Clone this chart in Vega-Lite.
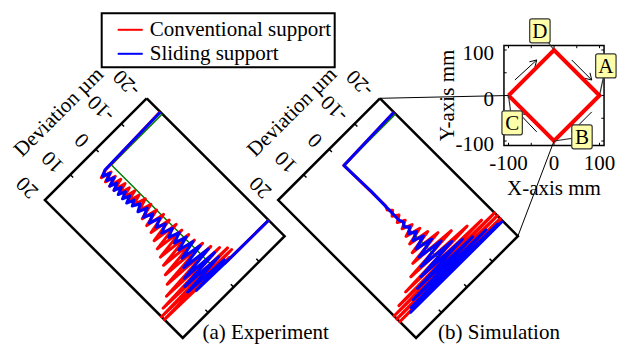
{
  "$schema": "https://vega.github.io/schema/vega-lite/v6.json",
  "width": 621,
  "height": 345,
  "autosize": {"type": "fit", "contains": "padding"},
  "padding": 0,
  "background": "white",
  "config": {"view": {"stroke": null}, "legend": {"strokeWidth": 2}},
  "datasets": {
    "curves": [
      {"panel":"a","series":"Conventional support","s":-2.8,"d":-20},
      {"panel":"a","series":"Conventional support","s":-0.5,"d":2},
      {"panel":"a","series":"Conventional support","s":1.9,"d":4.5},
      {"panel":"a","series":"Conventional support","s":4.7,"d":1.5},
      {"panel":"a","series":"Conventional support","s":7.5,"d":4.5},
      {"panel":"a","series":"Conventional support","s":10.4,"d":1.5},
      {"panel":"a","series":"Conventional support","s":13.2,"d":4.5},
      {"panel":"a","series":"Conventional support","s":16.0,"d":1},
      {"panel":"a","series":"Conventional support","s":18.9,"d":4.5},
      {"panel":"a","series":"Conventional support","s":21.7,"d":1},
      {"panel":"a","series":"Conventional support","s":24.5,"d":4},
      {"panel":"a","series":"Conventional support","s":27.4,"d":1},
      {"panel":"a","series":"Conventional support","s":30.2,"d":4},
      {"panel":"a","series":"Conventional support","s":33.0,"d":0.5},
      {"panel":"a","series":"Conventional support","s":35.8,"d":4},
      {"panel":"a","series":"Conventional support","s":38.7,"d":0.5},
      {"panel":"a","series":"Conventional support","s":41.5,"d":3.5},
      {"panel":"a","series":"Conventional support","s":45.3,"d":0},
      {"panel":"a","series":"Conventional support","s":49.1,"d":3.5},
      {"panel":"a","series":"Conventional support","s":52.8,"d":0},
      {"panel":"a","series":"Conventional support","s":56.6,"d":4.5},
      {"panel":"a","series":"Conventional support","s":60.4,"d":0},
      {"panel":"a","series":"Conventional support","s":64.2,"d":5},
      {"panel":"a","series":"Conventional support","s":67.9,"d":-0.5},
      {"panel":"a","series":"Conventional support","s":71.7,"d":5.5},
      {"panel":"a","series":"Conventional support","s":75.5,"d":-0.5},
      {"panel":"a","series":"Conventional support","s":79.2,"d":6.5},
      {"panel":"a","series":"Conventional support","s":83.0,"d":-1},
      {"panel":"a","series":"Conventional support","s":86.8,"d":7.5},
      {"panel":"a","series":"Conventional support","s":90.6,"d":-1},
      {"panel":"a","series":"Conventional support","s":94.3,"d":8.5},
      {"panel":"a","series":"Conventional support","s":98.1,"d":-1.5},
      {"panel":"a","series":"Conventional support","s":101.9,"d":9.5},
      {"panel":"a","series":"Conventional support","s":105.7,"d":-1.5},
      {"panel":"a","series":"Conventional support","s":109.4,"d":11},
      {"panel":"a","series":"Conventional support","s":113.2,"d":-2.5},
      {"panel":"a","series":"Conventional support","s":117.0,"d":12.5},
      {"panel":"a","series":"Conventional support","s":120.8,"d":-3.5},
      {"panel":"a","series":"Conventional support","s":124.5,"d":15},
      {"panel":"a","series":"Conventional support","s":127.4,"d":-5},
      {"panel":"a","series":"Conventional support","s":130.2,"d":18},
      {"panel":"a","series":"Conventional support","s":133.0,"d":-6.5},
      {"panel":"a","series":"Conventional support","s":134.9,"d":20},
      {"panel":"a","series":"Conventional support","s":136.8,"d":-7},
      {"panel":"a","series":"Conventional support","s":138.7,"d":20},
      {"panel":"a","series":"Conventional support","s":140.6,"d":-5},
      {"panel":"a","series":"Conventional support","s":141.5,"d":-3},
      {"panel":"a","series":"Conventional support","s":142.0,"d":-20},

      {"panel":"a","series":"Sliding support","s":-2.5,"d":-20},
      {"panel":"a","series":"Sliding support","s":-0.8,"d":2.3},
      {"panel":"a","series":"Sliding support","s":1.9,"d":4},
      {"panel":"a","series":"Sliding support","s":4.7,"d":2},
      {"panel":"a","series":"Sliding support","s":7.5,"d":4},
      {"panel":"a","series":"Sliding support","s":10.4,"d":2},
      {"panel":"a","series":"Sliding support","s":13.2,"d":4.5},
      {"panel":"a","series":"Sliding support","s":16.0,"d":2.5},
      {"panel":"a","series":"Sliding support","s":18.9,"d":4.5},
      {"panel":"a","series":"Sliding support","s":21.7,"d":2.5},
      {"panel":"a","series":"Sliding support","s":24.5,"d":4.5},
      {"panel":"a","series":"Sliding support","s":27.4,"d":2.5},
      {"panel":"a","series":"Sliding support","s":30.2,"d":4.5},
      {"panel":"a","series":"Sliding support","s":33.0,"d":2.5},
      {"panel":"a","series":"Sliding support","s":35.8,"d":4.5},
      {"panel":"a","series":"Sliding support","s":38.7,"d":2.5},
      {"panel":"a","series":"Sliding support","s":41.5,"d":4},
      {"panel":"a","series":"Sliding support","s":45.3,"d":2},
      {"panel":"a","series":"Sliding support","s":49.1,"d":4},
      {"panel":"a","series":"Sliding support","s":52.8,"d":1.5},
      {"panel":"a","series":"Sliding support","s":56.6,"d":4},
      {"panel":"a","series":"Sliding support","s":60.4,"d":1.5},
      {"panel":"a","series":"Sliding support","s":64.2,"d":4},
      {"panel":"a","series":"Sliding support","s":67.9,"d":1},
      {"panel":"a","series":"Sliding support","s":71.7,"d":3.5},
      {"panel":"a","series":"Sliding support","s":75.5,"d":1},
      {"panel":"a","series":"Sliding support","s":79.2,"d":3.5},
      {"panel":"a","series":"Sliding support","s":83.0,"d":0.5},
      {"panel":"a","series":"Sliding support","s":86.8,"d":3},
      {"panel":"a","series":"Sliding support","s":90.6,"d":0},
      {"panel":"a","series":"Sliding support","s":94.3,"d":3},
      {"panel":"a","series":"Sliding support","s":98.1,"d":-0.5},
      {"panel":"a","series":"Sliding support","s":101.9,"d":3.5},
      {"panel":"a","series":"Sliding support","s":105.7,"d":-1},
      {"panel":"a","series":"Sliding support","s":109.4,"d":4.5},
      {"panel":"a","series":"Sliding support","s":113.2,"d":-1.5},
      {"panel":"a","series":"Sliding support","s":117.0,"d":6},
      {"panel":"a","series":"Sliding support","s":120.8,"d":-2.5},
      {"panel":"a","series":"Sliding support","s":124.5,"d":8},
      {"panel":"a","series":"Sliding support","s":127.4,"d":-3},
      {"panel":"a","series":"Sliding support","s":130.2,"d":9.5},
      {"panel":"a","series":"Sliding support","s":133.0,"d":-3},
      {"panel":"a","series":"Sliding support","s":135.8,"d":10},
      {"panel":"a","series":"Sliding support","s":138.7,"d":-3.5},
      {"panel":"a","series":"Sliding support","s":140.6,"d":8},
      {"panel":"a","series":"Sliding support","s":141.5,"d":-4},
      {"panel":"a","series":"Sliding support","s":142.0,"d":-20},

      {"panel":"b","series":"Conventional support","s":-2.2,"d":-20},
      {"panel":"b","series":"Conventional support","s":0,"d":0.3},
      {"panel":"b","series":"Conventional support","s":54.7,"d":0},
      {"panel":"b","series":"Conventional support","s":58.5,"d":0.5},
      {"panel":"b","series":"Conventional support","s":62.3,"d":-0.5},
      {"panel":"b","series":"Conventional support","s":66.0,"d":0.8},
      {"panel":"b","series":"Conventional support","s":69.8,"d":-0.8},
      {"panel":"b","series":"Conventional support","s":73.6,"d":1},
      {"panel":"b","series":"Conventional support","s":77.4,"d":-1},
      {"panel":"b","series":"Conventional support","s":81.1,"d":1.3},
      {"panel":"b","series":"Conventional support","s":84.9,"d":-1.5},
      {"panel":"b","series":"Conventional support","s":88.7,"d":2},
      {"panel":"b","series":"Conventional support","s":92.5,"d":-2.3},
      {"panel":"b","series":"Conventional support","s":96.2,"d":2.8},
      {"panel":"b","series":"Conventional support","s":100.0,"d":-3.2},
      {"panel":"b","series":"Conventional support","s":103.8,"d":4},
      {"panel":"b","series":"Conventional support","s":107.5,"d":-5},
      {"panel":"b","series":"Conventional support","s":111.3,"d":6},
      {"panel":"b","series":"Conventional support","s":115.1,"d":-8},
      {"panel":"b","series":"Conventional support","s":118.9,"d":9},
      {"panel":"b","series":"Conventional support","s":122.6,"d":-12},
      {"panel":"b","series":"Conventional support","s":125.5,"d":13},
      {"panel":"b","series":"Conventional support","s":128.3,"d":-16},
      {"panel":"b","series":"Conventional support","s":130.2,"d":17},
      {"panel":"b","series":"Conventional support","s":132.1,"d":-20},
      {"panel":"b","series":"Conventional support","s":133.9,"d":20},
      {"panel":"b","series":"Conventional support","s":135.8,"d":-20},
      {"panel":"b","series":"Conventional support","s":137.7,"d":20},
      {"panel":"b","series":"Conventional support","s":139.6,"d":-20},
      {"panel":"b","series":"Conventional support","s":141.5,"d":20},
      {"panel":"b","series":"Conventional support","s":142.5,"d":-20},

      {"panel":"b","series":"Sliding support","s":-2.2,"d":-20},
      {"panel":"b","series":"Sliding support","s":0,"d":0.3},
      {"panel":"b","series":"Sliding support","s":35.8,"d":0},
      {"panel":"b","series":"Sliding support","s":73.6,"d":0.2},
      {"panel":"b","series":"Sliding support","s":77.4,"d":-0.3},
      {"panel":"b","series":"Sliding support","s":81.1,"d":0.6},
      {"panel":"b","series":"Sliding support","s":84.9,"d":-0.6},
      {"panel":"b","series":"Sliding support","s":88.7,"d":1},
      {"panel":"b","series":"Sliding support","s":92.5,"d":-1},
      {"panel":"b","series":"Sliding support","s":96.2,"d":1.5},
      {"panel":"b","series":"Sliding support","s":100.0,"d":-1.5},
      {"panel":"b","series":"Sliding support","s":103.8,"d":2.5},
      {"panel":"b","series":"Sliding support","s":107.5,"d":-2.5},
      {"panel":"b","series":"Sliding support","s":111.3,"d":3.5},
      {"panel":"b","series":"Sliding support","s":115.1,"d":-4},
      {"panel":"b","series":"Sliding support","s":118.9,"d":5},
      {"panel":"b","series":"Sliding support","s":122.6,"d":-6},
      {"panel":"b","series":"Sliding support","s":125.5,"d":7},
      {"panel":"b","series":"Sliding support","s":128.3,"d":-8.5},
      {"panel":"b","series":"Sliding support","s":131.1,"d":10},
      {"panel":"b","series":"Sliding support","s":133.5,"d":-11},
      {"panel":"b","series":"Sliding support","s":135.8,"d":13},
      {"panel":"b","series":"Sliding support","s":137.7,"d":-15},
      {"panel":"b","series":"Sliding support","s":139.6,"d":15},
      {"panel":"b","series":"Sliding support","s":141.5,"d":-18.5},
      {"panel":"b","series":"Sliding support","s":142.5,"d":16},
      {"panel":"b","series":"Sliding support","s":142.9,"d":-20}
    ],
    "reference": [
      {"panel":"a","s":0,"d":-20},{"panel":"a","s":0.2,"d":0},{"panel":"a","s":141.2,"d":0},{"panel":"a","s":141.4,"d":-20},
      {"panel":"b","s":0,"d":-20},{"panel":"b","s":0.2,"d":0},{"panel":"b","s":141.2,"d":0},{"panel":"b","s":141.4,"d":-20}
    ],
    "frames": [
      {"panel":"a","s":-20.75,"d":-20},{"panel":"a","s":163.2,"d":-20},{"panel":"a","s":163.2,"d":20},{"panel":"a","s":-20.75,"d":20},{"panel":"a","s":-20.75,"d":-20},
      {"panel":"b","s":-20.75,"d":-20},{"panel":"b","s":163.2,"d":-20},{"panel":"b","s":163.2,"d":20},{"panel":"b","s":-20.75,"d":20},{"panel":"b","s":-20.75,"d":-20}
    ],
    "frameticks": [
      {"panel":"a","side":"start","d":-10},{"panel":"a","side":"start","d":0},{"panel":"a","side":"start","d":10},
      {"panel":"a","side":"end","d":-10},{"panel":"a","side":"end","d":0},{"panel":"a","side":"end","d":10},
      {"panel":"b","side":"start","d":-10},{"panel":"b","side":"start","d":0},{"panel":"b","side":"start","d":10},
      {"panel":"b","side":"end","d":-10},{"panel":"b","side":"end","d":0},{"panel":"b","side":"end","d":10}
    ],
    "ticklabels": [
      {"panel":"a","d":-20,"label":"-20"},{"panel":"a","d":-10,"label":"-10"},{"panel":"a","d":0,"label":"0"},{"panel":"a","d":10,"label":"10"},{"panel":"a","d":20,"label":"20"},
      {"panel":"b","d":-20,"label":"-20"},{"panel":"b","d":-10,"label":"-10"},{"panel":"b","d":0,"label":"0"},{"panel":"b","d":10,"label":"10"},{"panel":"b","d":20,"label":"20"}
    ],
    "paneltitles": [
      {"panel":"a","label":"Deviation µm","caption":"(a) Experiment"},
      {"panel":"b","label":"Deviation µm","caption":"(b) Simulation"}
    ],
    "connectors": [
      {"panel":"b","s":-20.75,"d":-20,"X":-100,"Y":0},
      {"panel":"b","s":163.2,"d":-20,"X":0,"Y":-100}
    ],
    "path": [
      {"X":-100,"Y":0},{"X":0,"Y":100},{"X":100,"Y":0},{"X":0,"Y":-100},{"X":-100,"Y":0}
    ],
    "arrows": [
      {"X":-86,"Y":34,"X2":-38,"Y2":78},{"X":-54,"Y":74,"X2":-38,"Y2":78},{"X":-42,"Y":62,"X2":-38,"Y2":78},
      {"X":39,"Y":78,"X2":83,"Y2":34},{"X":79,"Y":50,"X2":83,"Y2":34},{"X":67,"Y":38,"X2":83,"Y2":34},
      {"X":83,"Y":-36,"X2":39,"Y2":-80},{"X":55,"Y":-76,"X2":39,"Y2":-80},{"X":43,"Y":-64,"X2":39,"Y2":-80},
      {"X":-38,"Y":-80,"X2":-78,"Y2":-38},{"X":-62,"Y":-42,"X2":-78,"Y2":-38},{"X":-74,"Y":-54,"X2":-78,"Y2":-38}
    ],
    "insetticks": [
      {"side":"top","v":-100},{"side":"top","v":-50},{"side":"top","v":0},{"side":"top","v":50},{"side":"top","v":100},
      {"side":"bottom","v":-100},{"side":"bottom","v":-50},{"side":"bottom","v":0},{"side":"bottom","v":50},{"side":"bottom","v":100},
      {"side":"left","v":-100},{"side":"left","v":-50},{"side":"left","v":0},{"side":"left","v":50},{"side":"left","v":100},
      {"side":"right","v":-100},{"side":"right","v":-50},{"side":"right","v":0},{"side":"right","v":50},{"side":"right","v":100}
    ],
    "insetlabels": [
      {"v":-100,"label":"-100"},{"v":0,"label":"0"},{"v":100,"label":"100"}
    ],
    "callouts": [
      {"label":"D","X":-31,"Y":142,"TX":0,"TY":100},
      {"label":"A","X":114,"Y":65,"TX":100,"TY":0},
      {"label":"B","X":61.5,"Y":-91,"TX":0,"TY":-100},
      {"label":"C","X":-92,"Y":-60,"TX":-100,"TY":0}
    ]
  },
  "layer": [
    {
      "data": {"name": "frames"},
      "transform": [
        {"calculate": "datum.panel === 'b' ? 380 : 146.7", "as": "tx"},
        {"calculate": "(datum.s + 20.75) * 1.06", "as": "sp"},
        {"calculate": "(datum.d + 20) * 3.6", "as": "dp"},
        {"calculate": "datum.tx + (datum.sp - datum.dp) * 0.70711", "as": "px"},
        {"calculate": "98.3 + (datum.sp + datum.dp) * 0.70711", "as": "py"}
      ],
      "mark": {"type": "line", "color": "black", "strokeWidth": 2.5, "strokeJoin": "miter"},
      "encoding": {
        "x": {"field": "px", "type": "quantitative", "scale": {"domain": [0, 621], "nice": false, "zero": false}, "axis": null},
        "y": {"field": "py", "type": "quantitative", "scale": {"domain": [0, 345], "reverse": true, "nice": false, "zero": false}, "axis": null},
        "detail": {"field": "panel"},
        "order": {"value": null}
      }
    },
    {
      "data": {"name": "frameticks"},
      "transform": [
        {"calculate": "datum.panel === 'b' ? 380 : 146.7", "as": "tx"},
        {"calculate": "datum.side === 'start' ? 0 : 195", "as": "sp"},
        {"calculate": "datum.side === 'start' ? 4 : 191", "as": "sp2"},
        {"calculate": "(datum.d + 20) * 3.6", "as": "dp"},
        {"calculate": "datum.tx + (datum.sp - datum.dp) * 0.70711", "as": "px"},
        {"calculate": "98.3 + (datum.sp + datum.dp) * 0.70711", "as": "py"},
        {"calculate": "datum.tx + (datum.sp2 - datum.dp) * 0.70711", "as": "px2"},
        {"calculate": "98.3 + (datum.sp2 + datum.dp) * 0.70711", "as": "py2"}
      ],
      "mark": {"type": "rule", "color": "black", "strokeWidth": 1.5},
      "encoding": {
        "x": {"field": "px", "type": "quantitative", "axis": null},
        "y": {"field": "py", "type": "quantitative", "axis": null},
        "x2": {"field": "px2"},
        "y2": {"field": "py2"}
      }
    },
    {
      "data": {"name": "ticklabels"},
      "transform": [
        {"calculate": "datum.panel === 'b' ? 380 : 146.7", "as": "tx"},
        {"calculate": "-11", "as": "sp"},
        {"calculate": "(datum.d + 20) * 3.6 + 3", "as": "dp"},
        {"calculate": "datum.tx + (datum.sp - datum.dp) * 0.70711", "as": "px"},
        {"calculate": "98.3 + (datum.sp + datum.dp) * 0.70711", "as": "py"}
      ],
      "mark": {"type": "text", "font": "Liberation Serif", "fontSize": 21, "color": "black", "angle": 225, "align": "left", "baseline": "middle"},
      "encoding": {
        "x": {"field": "px", "type": "quantitative", "axis": null},
        "y": {"field": "py", "type": "quantitative", "axis": null},
        "text": {"field": "label"}
      }
    },
    {
      "data": {"name": "paneltitles"},
      "transform": [
        {"calculate": "datum.panel === 'b' ? 380 : 146.7", "as": "tx"},
        {"calculate": "datum.tx + (-52 - 72) * 0.70711", "as": "px"},
        {"calculate": "98.3 + (-52 + 72) * 0.70711", "as": "py"}
      ],
      "mark": {"type": "text", "font": "Liberation Serif", "fontSize": 21, "color": "black", "angle": 315, "align": "center", "baseline": "middle"},
      "encoding": {
        "x": {"field": "px", "type": "quantitative", "axis": null},
        "y": {"field": "py", "type": "quantitative", "axis": null},
        "text": {"field": "label"}
      }
    },
    {
      "data": {"name": "paneltitles"},
      "transform": [
        {"calculate": "datum.panel === 'b' ? 380 : 146.7", "as": "tx"},
        {"calculate": "datum.tx + 119", "as": "px"},
        {"calculate": "333", "as": "py"}
      ],
      "mark": {"type": "text", "font": "Liberation Serif", "fontSize": 21, "color": "black", "align": "center", "baseline": "middle"},
      "encoding": {
        "x": {"field": "px", "type": "quantitative", "axis": null},
        "y": {"field": "py", "type": "quantitative", "axis": null},
        "text": {"field": "caption"}
      }
    },
    {
      "data": {"name": "reference"},
      "transform": [
        {"calculate": "datum.panel === 'b' ? 380 : 146.7", "as": "tx"},
        {"calculate": "(datum.s + 20.75) * 1.06", "as": "sp"},
        {"calculate": "(datum.d + 20) * 3.6", "as": "dp"},
        {"calculate": "datum.tx + (datum.sp - datum.dp) * 0.70711", "as": "px"},
        {"calculate": "98.3 + (datum.sp + datum.dp) * 0.70711", "as": "py"}
      ],
      "mark": {"type": "line", "color": "#008000", "strokeWidth": 1.5},
      "encoding": {
        "x": {"field": "px", "type": "quantitative", "axis": null},
        "y": {"field": "py", "type": "quantitative", "axis": null},
        "detail": {"field": "panel"},
        "order": {"value": null}
      }
    },
    {
      "data": {"name": "curves"},
      "transform": [
        {"calculate": "datum.panel === 'b' ? 380 : 146.7", "as": "tx"},
        {"calculate": "(datum.s + 20.75) * 1.06", "as": "sp"},
        {"calculate": "(datum.d + 20) * 3.6", "as": "dp"},
        {"calculate": "datum.tx + (datum.sp - datum.dp) * 0.70711", "as": "px"},
        {"calculate": "98.3 + (datum.sp + datum.dp) * 0.70711", "as": "py"}
      ],
      "mark": {"type": "line", "strokeWidth": 3, "strokeJoin": "round"},
      "encoding": {
        "x": {"field": "px", "type": "quantitative", "axis": null},
        "y": {"field": "py", "type": "quantitative", "axis": null},
        "detail": {"field": "panel"},
        "order": {"value": null},
        "color": {
          "field": "series", "type": "nominal",
          "scale": {"domain": ["Conventional support", "Sliding support"], "range": ["#ff0000", "#0000ff"]},
          "legend": {
            "orient": "none", "legendX": 101.7, "legendY": 13.3, "title": null,
            "symbolType": "stroke", "symbolSize": 625, "symbolStrokeWidth": 2,
            "labelFont": "Liberation Serif", "labelFontSize": 21, "labelColor": "black", "labelLimit": 400,
            "labelOffset": 6, "symbolOffset": 12, "rowPadding": -5, "padding": 3,
            "strokeColor": "black", "fillColor": "white"
          }
        }
      }
    },
    {
      "data": {"values": [{"X": -110, "Y": -110, "X2": 110, "Y2": 110}]},
      "transform": [
        {"calculate": "554 + datum.X * 0.455", "as": "px"},
        {"calculate": "95.5 - datum.Y * 0.455", "as": "py"},
        {"calculate": "554 + datum.X2 * 0.455", "as": "px2"},
        {"calculate": "95.5 - datum.Y2 * 0.455", "as": "py2"}
      ],
      "mark": {"type": "rect", "fill": "white", "stroke": "black", "strokeWidth": 1.5},
      "encoding": {
        "x": {"field": "px", "type": "quantitative", "axis": null},
        "y": {"field": "py", "type": "quantitative", "axis": null},
        "x2": {"field": "px2"},
        "y2": {"field": "py2"}
      }
    },
    {
      "data": {"name": "insetticks"},
      "transform": [
        {"calculate": "datum.side === 'left' ? -110 : datum.side === 'right' ? 110 : datum.v", "as": "X"},
        {"calculate": "datum.side === 'top' ? 110 : datum.side === 'bottom' ? -110 : datum.v", "as": "Y"},
        {"calculate": "datum.side === 'left' ? -104 : datum.side === 'right' ? 104 : datum.v", "as": "X2"},
        {"calculate": "datum.side === 'top' ? 104 : datum.side === 'bottom' ? -104 : datum.v", "as": "Y2"},
        {"calculate": "554 + datum.X * 0.455", "as": "px"},
        {"calculate": "95.5 - datum.Y * 0.455", "as": "py"},
        {"calculate": "554 + datum.X2 * 0.455", "as": "px2"},
        {"calculate": "95.5 - datum.Y2 * 0.455", "as": "py2"}
      ],
      "mark": {"type": "rule", "color": "black", "strokeWidth": 1},
      "encoding": {
        "x": {"field": "px", "type": "quantitative", "axis": null},
        "y": {"field": "py", "type": "quantitative", "axis": null},
        "x2": {"field": "px2"},
        "y2": {"field": "py2"}
      }
    },
    {
      "data": {"name": "insetlabels"},
      "transform": [
        {"calculate": "554 - 110 * 0.455 - 10", "as": "px"},
        {"calculate": "95.5 - datum.v * 0.455 + 4", "as": "py"}
      ],
      "mark": {"type": "text", "font": "Liberation Serif", "fontSize": 21, "color": "black", "align": "right", "baseline": "middle"},
      "encoding": {
        "x": {"field": "px", "type": "quantitative", "axis": null},
        "y": {"field": "py", "type": "quantitative", "axis": null},
        "text": {"field": "label"}
      }
    },
    {
      "data": {"name": "insetlabels"},
      "transform": [
        {"calculate": "554 + datum.v * 0.455", "as": "px"},
        {"calculate": "95.5 + 110 * 0.455 + 18", "as": "py"}
      ],
      "mark": {"type": "text", "font": "Liberation Serif", "fontSize": 21, "color": "black", "align": "center", "baseline": "middle"},
      "encoding": {
        "x": {"field": "px", "type": "quantitative", "axis": null},
        "y": {"field": "py", "type": "quantitative", "axis": null},
        "text": {"field": "label"}
      }
    },
    {
      "data": {"values": [{"label": "X-axis mm"}]},
      "transform": [
        {"calculate": "554", "as": "px"},
        {"calculate": "95.5 + 110 * 0.455 + 43", "as": "py"}
      ],
      "mark": {"type": "text", "font": "Liberation Serif", "fontSize": 21, "color": "black", "align": "center", "baseline": "middle"},
      "encoding": {
        "x": {"field": "px", "type": "quantitative", "axis": null},
        "y": {"field": "py", "type": "quantitative", "axis": null},
        "text": {"field": "label"}
      }
    },
    {
      "data": {"values": [{"label": "Y-axis mm"}]},
      "transform": [
        {"calculate": "554 - 110 * 0.455 - 56", "as": "px"},
        {"calculate": "95.5", "as": "py"}
      ],
      "mark": {"type": "text", "font": "Liberation Serif", "fontSize": 21, "color": "black", "align": "center", "baseline": "middle", "angle": 270},
      "encoding": {
        "x": {"field": "px", "type": "quantitative", "axis": null},
        "y": {"field": "py", "type": "quantitative", "axis": null},
        "text": {"field": "label"}
      }
    },
    {
      "data": {"name": "arrows"},
      "transform": [
        {"calculate": "554 + datum.X * 0.455", "as": "px"},
        {"calculate": "95.5 - datum.Y * 0.455", "as": "py"},
        {"calculate": "554 + datum.X2 * 0.455", "as": "px2"},
        {"calculate": "95.5 - datum.Y2 * 0.455", "as": "py2"}
      ],
      "mark": {"type": "rule", "color": "black", "strokeWidth": 1},
      "encoding": {
        "x": {"field": "px", "type": "quantitative", "axis": null},
        "y": {"field": "py", "type": "quantitative", "axis": null},
        "x2": {"field": "px2"},
        "y2": {"field": "py2"}
      }
    },
    {
      "data": {"name": "path"},
      "transform": [
        {"calculate": "554 + datum.X * 0.455", "as": "px"},
        {"calculate": "95.5 - datum.Y * 0.455", "as": "py"}
      ],
      "mark": {"type": "line", "color": "#ff0000", "strokeWidth": 4, "strokeJoin": "miter"},
      "encoding": {
        "x": {"field": "px", "type": "quantitative", "axis": null},
        "y": {"field": "py", "type": "quantitative", "axis": null},
        "order": {"value": null}
      }
    },
    {
      "data": {"name": "connectors"},
      "transform": [
        {"calculate": "datum.panel === 'b' ? 380 : 146.7", "as": "tx"},
        {"calculate": "(datum.s + 20.75) * 1.06", "as": "sp"},
        {"calculate": "(datum.d + 20) * 3.6", "as": "dp"},
        {"calculate": "datum.tx + (datum.sp - datum.dp) * 0.70711", "as": "px"},
        {"calculate": "98.3 + (datum.sp + datum.dp) * 0.70711", "as": "py"},
        {"calculate": "554 + datum.X * 0.455", "as": "px2"},
        {"calculate": "95.5 - datum.Y * 0.455", "as": "py2"}
      ],
      "mark": {"type": "rule", "color": "black", "strokeWidth": 1},
      "encoding": {
        "x": {"field": "px", "type": "quantitative", "axis": null},
        "y": {"field": "py", "type": "quantitative", "axis": null},
        "x2": {"field": "px2"},
        "y2": {"field": "py2"}
      }
    },
    {
      "data": {"name": "callouts"},
      "transform": [
        {"calculate": "554 + datum.X * 0.455", "as": "px"},
        {"calculate": "95.5 - datum.Y * 0.455", "as": "py"},
        {"calculate": "554 + datum.TX * 0.455", "as": "px2"},
        {"calculate": "95.5 - datum.TY * 0.455", "as": "py2"}
      ],
      "mark": {"type": "rule", "color": "#333333", "strokeWidth": 1.2},
      "encoding": {
        "x": {"field": "px", "type": "quantitative", "axis": null},
        "y": {"field": "py", "type": "quantitative", "axis": null},
        "x2": {"field": "px2"},
        "y2": {"field": "py2"}
      }
    },
    {
      "data": {"name": "callouts"},
      "transform": [
        {"calculate": "554 + datum.X * 0.455", "as": "px"},
        {"calculate": "95.5 - datum.Y * 0.455", "as": "py"}
      ],
      "mark": {
        "type": "point", "filled": true, "fill": "#ffffaa", "stroke": "#333333", "strokeWidth": 1.2, "opacity": 1, "fillOpacity": 1,
        "size": 576,
        "shape": "M -0.68 -1 L 0.68 -1 Q 0.85 -1 0.85 -0.83 L 0.85 0.83 Q 0.85 1 0.68 1 L -0.68 1 Q -0.85 1 -0.85 0.83 L -0.85 -0.83 Q -0.85 -1 -0.68 -1 Z"
      },
      "encoding": {
        "x": {"field": "px", "type": "quantitative", "axis": null},
        "y": {"field": "py", "type": "quantitative", "axis": null}
      }
    },
    {
      "data": {"name": "callouts"},
      "transform": [
        {"calculate": "554 + datum.X * 0.455", "as": "px"},
        {"calculate": "95.5 - datum.Y * 0.455", "as": "py"}
      ],
      "mark": {"type": "text", "font": "Liberation Serif", "fontSize": 21, "color": "black", "align": "center", "baseline": "middle", "dy": 1},
      "encoding": {
        "x": {"field": "px", "type": "quantitative", "axis": null},
        "y": {"field": "py", "type": "quantitative", "axis": null},
        "text": {"field": "label"}
      }
    }
  ]
}
